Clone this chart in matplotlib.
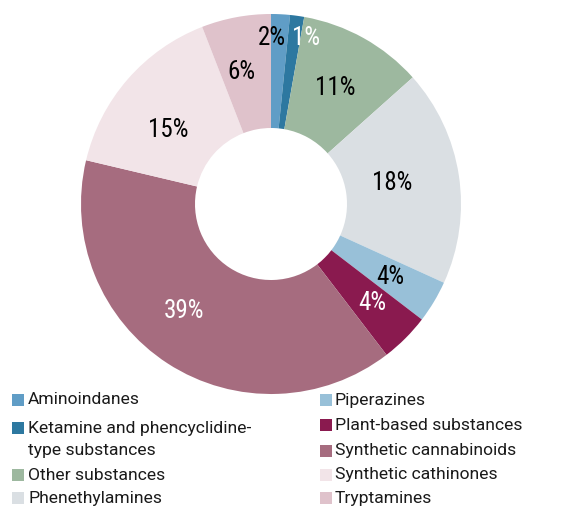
import numpy as np
import matplotlib
matplotlib.use("Agg")
import matplotlib.pyplot as plt
from matplotlib.patches import Rectangle
from matplotlib import font_manager

installed = {f.name for f in font_manager.fontManager.ttflist}
narrow = [f for f in ['Roboto Condensed', 'Liberation Sans Narrow'] if f in installed]
plt.rcParams['font.family'] = ['Roboto', 'Liberation Sans', 'DejaVu Sans']

# data (share of substances, %)
categories = ["Aminoindanes", "Ketamine and phencyclidine-\ntype substances",
              "Other substances", "Phenethylamines", "Piperazines",
              "Plant-based substances", "Synthetic cannabinoids",
              "Synthetic cathinones", "Tryptamines"]
shares = [1.6, 1.2, 10.6, 18.4, 3.6, 4.2, 39.1, 15.4, 5.9]
colors = ["#609DC6", "#2D78A0", "#9DB89F", "#DADFE3", "#98C0D8",
          "#8A1A4F", "#A66C7F", "#F2E4E8", "#DFC2CB"]
label_colors = ["black", "white", "black", "black", "black",
                "white", "white", "black", "black"]
# label placement: fraction of radius and angular nudge (deg) from slice middle
label_radius = [0.88, 0.88, 0.70, 0.646, 0.735, 0.744, 0.725, 0.667, 0.71]
label_nudge = [0, 0, 0.3, 1.2, -0.5, 0.6, -6.2, 5.3, 1.9]

W, H = 584, 509
fig = plt.figure(figsize=(W / 100, H / 100), dpi=100)

# donut
cx, cy, R = 271, 204, 190
ax = fig.add_axes([(cx - R) / W, (H - cy - R) / H, 2 * R / W, 2 * R / H])
wedges, _ = ax.pie(shares, colors=colors, startangle=90, counterclock=False,
                   radius=1, wedgeprops=dict(width=0.6, linewidth=0))
ax.set_xlim(-1, 1)
ax.set_ylim(-1, 1)
ax.set_aspect('equal')
ax.axis('off')

lab_font = narrow + ['Roboto', 'DejaVu Sans']
for i, (w, v, c, r, d) in enumerate(zip(wedges, shares, label_colors,
                                        label_radius, label_nudge)):
    if i < 2:
        # the two thin slices at the top: labels sit either side of their border
        ang = np.deg2rad(wedges[0].theta1)
        x, y = r * np.cos(ang), r * np.sin(ang)
        ha = 'right' if i == 0 else 'left'
        x += -0.01 if i == 0 else 0.02
    else:
        ang = np.deg2rad((w.theta1 + w.theta2) / 2 + d)
        x, y = r * np.cos(ang), r * np.sin(ang)
        ha = 'center'
    ax.text(x, y, f"{v:.0f}%", color=c, fontsize=18, family=lab_font,
            ha=ha, va='center')

# legend, two columns
rows_left = [400, 428, 475, 498]
rows_right = [400, 425, 451, 475, 498]
cols = [(12, 28, rows_left, range(0, 4)), (320, 335, rows_right, range(4, 9))]
for sx, tx, rows, idx in cols:
    for y, i in zip(rows, idx):
        fig.patches.append(Rectangle((sx / W, 1 - (y + 6) / H), 12 / W, 12 / H,
                                     transform=fig.transFigure,
                                     facecolor=colors[i], edgecolor='none'))
        for k, line in enumerate(categories[i].split("\n")):
            fig.text(tx / W, 1 - (y + 22 * k) / H, line, fontsize=12.6,
                     ha='left', va='center', color='#1a1a1a')

fig.savefig("out.png", dpi=100)
